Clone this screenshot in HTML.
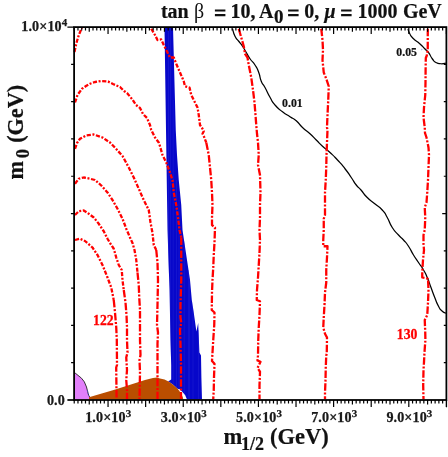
<!DOCTYPE html>
<html><head><meta charset="utf-8"><title>plot</title>
<style>
html,body{margin:0;padding:0;background:#fff;}
body{width:448px;height:457px;overflow:hidden;}
svg{display:block;will-change:transform;opacity:0.999;font-family:"Liberation Serif",serif;font-weight:bold;}
.tl{font-size:14.1px;letter-spacing:0.12px;fill:#1a1a1a;stroke:#1a1a1a;stroke-width:0.25px;}
</style></head><body>
<svg width="448" height="457" viewBox="0 0 448 457">
<rect width="448" height="457" fill="#fff"/>
<!-- filled regions -->
<polygon points="164.5,27 173,27 175.75,130 177,155 178.75,180 181.25,205 182.5,230 186.25,255 190,280 191.8,300 193.8,313 196.4,331.5 198.2,323 198.6,333 199.4,352.5 201,355.5 201.4,378 202,399.5 187,399.5 185.1,395.1 182.3,391.8 179.5,389 177.9,389 173.4,385 169,381.7 167.8,381.7 171.2,379.5 171.2,365 170.5,340 169.5,290 167.5,230 166,130" fill="#0707ca"/>
<clipPath id="bc"><polygon points="164.5,27 173,27 175.75,130 177,155 178.75,180 181.25,205 182.5,230 186.25,255 190,280 191.8,300 193.8,313 196.4,331.5 198.2,323 198.6,333 199.4,352.5 201,355.5 201.4,378 202,399.5 187,399.5 185.1,395.1 182.3,391.8 179.5,389 177.9,389 173.4,385 169,381.7 167.8,381.7 171.2,379.5 171.2,365 170.5,340 169.5,290 167.5,230 166,130"/></clipPath>
<g clip-path="url(#bc)" stroke="#2222d2" stroke-width="0.5" fill="none"><path d="M168.5 27V400M170.6 27V400M173.2 100V400M176.5 180V400M179 200V400M184.2 240V400M188.6 270V400M189.6 280V400M193 300V400M198.5 330V400"/></g>
<polygon points="74,373 75.1,373 81.5,378.2 84.3,381.8 86.5,387 87.5,391 88.7,395.6 90,397.3 90,399.5 74,399.5" fill="#e280fa"/>
<polyline points="75.1,373 81.5,378.2 84.3,381.8 86.5,387 87.5,391 88.7,395.6 90,397.3" fill="none" stroke="#222" stroke-width="0.9"/>
<path d="M87.4 390.5L88.6 395.2L89.8 397" stroke="#5a5af0" stroke-width="0.9" fill="none" stroke-dasharray="1.2 1.2"/>
<polygon points="89,399.5 89,397.3 100,394 112,390.5 120,388 145,380 153,378 157,377.5 160,378.4 164.5,379.5 169,381.7 173.4,385 177.9,389 181.2,393.5 182.9,397.4 183.3,399.5" fill="#ba4e00"/>
<!-- black contours -->
<g fill="none" stroke="#000" stroke-width="1.25" stroke-linejoin="round">
<path d="M232.5 28.75C233.33 31.25 232.92 32.08 235 36.25C237.08 40.42 236.25 37.92 238.75 41.25C241.25 44.58 240.00 42.50 242.5 46.25C245.00 50.00 243.75 48.33 246.25 52.5C248.75 56.67 247.08 54.58 250 58.75C252.92 62.92 252.08 60.42 255 65C257.92 69.58 256.67 67.08 258.75 72.5C260.83 77.92 259.17 76.25 261.25 81.25C263.33 86.25 262.08 82.15 265 87.5C267.92 92.85 266.67 91.47 270 97.3C273.33 103.13 270.83 100.20 275 105C279.17 109.80 277.50 107.80 282.5 111.7C287.50 115.60 285.42 113.67 290 116.7C294.58 119.73 292.08 117.20 296.25 120.8C300.42 124.40 297.92 123.18 302.5 127.5C307.08 131.82 305.42 129.58 310 133.75C314.58 137.92 312.08 135.83 316.25 140C320.42 144.17 317.92 142.08 322.5 146.25C327.08 150.42 325.00 147.92 330 152.5C335.00 157.08 332.50 154.58 337.5 160C342.50 165.42 340.42 162.92 345 168.75C349.58 174.58 347.50 172.08 351.25 177.5C355.00 182.92 353.00 180.83 356.25 185C359.50 189.17 357.33 185.83 361 190C364.67 194.17 362.67 192.92 367.25 197.5C371.83 202.08 369.75 199.58 374.75 203.75C379.75 207.92 378.08 205.42 382.25 210C386.42 214.58 383.92 211.67 387.25 217.5C390.58 223.33 388.50 221.67 392.25 227.5C396.00 233.33 394.75 230.83 398.5 235C402.25 239.17 400.17 236.25 403.5 240C406.83 243.75 405.17 241.25 408.5 246.25C411.83 251.25 410.17 249.58 413.5 255C416.83 260.42 415.17 257.50 418.5 262.5C421.83 267.50 420.58 265.00 423.5 270C426.42 275.00 424.75 271.67 427.25 277.5C429.75 283.33 428.50 280.83 431 287.5C433.50 294.17 432.25 291.25 434.75 297.5C437.25 303.75 436.00 301.67 438.5 306.25C441.00 310.83 439.75 308.92 442.25 311.25C444.75 313.58 444.75 312.58 446 313.25"/>
<path d="M408 28.75C408.58 30.42 407.92 30.42 409.75 33.75C411.58 37.08 410.17 35.42 413.5 38.75C416.83 42.08 416.00 40.42 419.75 43.75C423.50 47.08 421.83 45.83 424.75 48.75C427.67 51.67 426.00 49.17 428.5 52.5C431.00 55.83 429.75 55.42 432.25 58.75C434.75 62.08 433.08 60.83 436 62.5C438.92 64.17 437.67 63.58 441 63.75C444.33 63.92 444.33 63.25 446 63"/>
</g>
<!-- red contours -->
<g fill="none" stroke="#ff0000" stroke-width="2.3" stroke-linejoin="round">
<g stroke-dasharray="4.2 1.6 2 1.6"><polyline points="74.5,52 75.5,47 77,41 78.75,35.3 80.5,31 82,28"/>
<polyline points="75,102.5 77.5,95 82,88.75 86,86 90,83.75 95,82 101,81 108,81.5 113,84 120,87 124,91 127,93 132,99 136,105 140,108 143,114 147,118 150,125 151.25,130 155,137.5 158.75,142.5 160,146.25 162.5,155 166.25,162.5 170,172.5 172.5,180 173.75,192.5 176.25,205 178,217.5 179.5,230 181.25,237.5"/>
<polyline points="75,148.75 77,143 80,138.75 86,135.5 93.75,134.5 102.5,137.5 110,142.5 116,148.75 122.5,156 128.75,167.5 133.75,177.5 138.75,188.75 143.75,200 148.75,210 150.5,222.5 152.5,233 153.75,245 156.25,250"/>
<polyline points="75,183.75 78.75,178.75 83.75,177.5 90,178.75 95,180 101.25,185.5 107.5,192.5 112.5,200 117.5,208.75 122.5,218.75 126.25,228.75 130,237.5 132.5,243 134.5,250 136.25,260 137.5,272.5"/>
<polyline points="75,215 78.75,211.25 83.75,210.5 88.75,213.75 93.75,217.5 98.75,223.75 103.75,231.25 107.5,238.75 110,243 113.75,248.75 116.25,257.5 118.75,265 121.75,270 122.5,280 123.75,290"/>
<polyline points="75,240 80,238.75 85,241 92.5,247.5 97.5,255 102.5,265 107.5,277.5 111.25,287.5 113.75,300"/>
<polyline points="151.25,28.75 155,35 157.5,40 161.25,39.5 163.75,45 167.5,52.5 170,57.5 173.75,57.5 176.25,63.75 180,72.5 183.75,81.25 185,86.25 189.5,87.5 191.25,95 195,102.5 197.5,107.5 198.75,115 200,125 202.5,128.75 203.75,131.25 202.5,133.75 203.75,136 206.25,142.5"/></g>
<g stroke-dasharray="7.5 1.7 2 1.7"><polyline points="181.25,237.5 181.25,255 181.25,280 180.5,305 180.5,317.5 181.25,322.5 180,330 180.5,344 181,365 181,399"/>
<polyline points="156.25,250 157.5,262.5 158,280 157.5,305 157,325 158,332.5 157.5,343.75 157.5,399"/>
<polyline points="137.5,272.5 138.75,285 139.25,297.5 140,310 140,322.5 140,340 140.5,355 139.5,360 140,372.5 139.5,399"/>
<polyline points="123.75,290 125.5,302.5 126.5,315 127,327.5 127,340 127.5,352.5 126.25,357.5 127,370 126.25,380 127,390 127,399"/>
<polyline points="113.75,300 115,312.5 116.25,327.5 116.8,340 117,365 116.2,367.5 116.6,399"/>
<polyline points="206.25,142.5 208.75,155 210,167.5 211.25,180 212,192.5 212.5,205 212,217.5 212,225 215,227.5 214.5,242.5 213.75,255 213.25,267.5 212.5,280 212,292.5 211.75,310 214.5,312.5 214.25,325 213.25,340 212.5,352.5 212,361 214.5,363.75 214,377.5 213.75,390 213.25,399"/>
<polyline points="238.75,28.75 241.25,37.5 243.75,46.25 245,53.75 247.5,57.5 248.75,65 251.25,77.5 253,90 254.5,102.5 255.5,115 256.25,125 257,133.75 258,142.5 258.75,155 258,165 260,175 260.5,192.5 260,205 260,217.5 259.5,230 260,240 259.5,252.5 258.75,265 258,277.5 257,290 256.75,300 260,301.25 259.5,315 258.75,327.5 258.25,340 258,355.5 257.5,360.5 260.5,361.75 257.5,368 260,371.75 259.5,385.5 259.5,399"/>
<polyline points="321.25,28.75 322.5,40 323,50 322.5,60 323.75,72.5 326.25,78.75 328.75,86.25 328.25,100 327.5,115 327,127.5 327.5,130 327,142.5 326.5,155 326.25,167.5 325.75,180 325,192.5 325,205 325,215 323.75,218.75 323.75,230 323.25,240 323.25,246.25 327.5,246.25 327,257.5 326.25,270 326.25,282.5 325,292.5 324.5,305 323.75,317.5 323.25,327.5 325,333.75 327,337.5 326.75,353.75 326.25,355.5 325.75,368 325.5,380.5 325,393 325,399"/>
<polyline points="427.8,28.75 427.75,40 427.75,50.5 427,53.5 426.8,55.5 425.8,58 425.6,70 425.5,82.5 425.25,95 424,107.5 423.5,117.5 424.75,127.5 425,133 426.5,137.5 428.5,147.5 429,155 428.5,167.5 428,180 427.25,192.5 426.5,202.5 424.75,207.5 425.25,217.5 424.75,230 423.5,235 423.5,243.75 424,250 423,260 422.25,272.5 422.25,277.5 428,278.75 428.5,290 428,302.5 427.25,315 424.75,320 425.25,332.5 425.4,340 424.5,352 424,362 423.5,370 423.2,385 423.5,399"/></g>
</g>
<!-- axes -->
<rect x="74.1" y="27.1" width="372.3" height="372.9" fill="none" stroke="#000" stroke-width="1.8"/>
<path d="M74.22 27.1v3.5M74.22 400.0v3.5M77.97 27.1v3.5M77.97 400.0v3.5M81.73 27.1v3.5M81.73 400.0v3.5M85.49 27.1v3.5M85.49 400.0v3.5M89.25 27.1v4.6M89.25 400.0v4.6M93.01 27.1v3.5M93.01 400.0v3.5M96.77 27.1v3.5M96.77 400.0v3.5M100.53 27.1v3.5M100.53 400.0v3.5M104.29 27.1v3.5M104.29 400.0v3.5M108.05 27.1v7.0M108.05 400.0v7.0M111.81 27.1v3.5M111.81 400.0v3.5M115.57 27.1v3.5M115.57 400.0v3.5M119.33 27.1v3.5M119.33 400.0v3.5M123.09 27.1v3.5M123.09 400.0v3.5M126.85 27.1v4.6M126.85 400.0v4.6M130.61 27.1v3.5M130.61 400.0v3.5M134.37 27.1v3.5M134.37 400.0v3.5M138.13 27.1v3.5M138.13 400.0v3.5M141.88 27.1v3.5M141.88 400.0v3.5M145.64 27.1v7.0M145.64 400.0v7.0M149.40 27.1v3.5M149.40 400.0v3.5M153.16 27.1v3.5M153.16 400.0v3.5M156.92 27.1v3.5M156.92 400.0v3.5M160.68 27.1v3.5M160.68 400.0v3.5M164.44 27.1v4.6M164.44 400.0v4.6M168.20 27.1v3.5M168.20 400.0v3.5M171.96 27.1v3.5M171.96 400.0v3.5M175.72 27.1v3.5M175.72 400.0v3.5M179.48 27.1v3.5M179.48 400.0v3.5M183.24 27.1v7.0M183.24 400.0v7.0M187.00 27.1v3.5M187.00 400.0v3.5M190.76 27.1v3.5M190.76 400.0v3.5M194.52 27.1v3.5M194.52 400.0v3.5M198.28 27.1v3.5M198.28 400.0v3.5M202.04 27.1v4.6M202.04 400.0v4.6M205.80 27.1v3.5M205.80 400.0v3.5M209.55 27.1v3.5M209.55 400.0v3.5M213.31 27.1v3.5M213.31 400.0v3.5M217.07 27.1v3.5M217.07 400.0v3.5M220.83 27.1v7.0M220.83 400.0v7.0M224.59 27.1v3.5M224.59 400.0v3.5M228.35 27.1v3.5M228.35 400.0v3.5M232.11 27.1v3.5M232.11 400.0v3.5M235.87 27.1v3.5M235.87 400.0v3.5M239.63 27.1v4.6M239.63 400.0v4.6M243.39 27.1v3.5M243.39 400.0v3.5M247.15 27.1v3.5M247.15 400.0v3.5M250.91 27.1v3.5M250.91 400.0v3.5M254.67 27.1v3.5M254.67 400.0v3.5M258.43 27.1v7.0M258.43 400.0v7.0M262.19 27.1v3.5M262.19 400.0v3.5M265.95 27.1v3.5M265.95 400.0v3.5M269.71 27.1v3.5M269.71 400.0v3.5M273.47 27.1v3.5M273.47 400.0v3.5M277.22 27.1v4.6M277.22 400.0v4.6M280.98 27.1v3.5M280.98 400.0v3.5M284.74 27.1v3.5M284.74 400.0v3.5M288.50 27.1v3.5M288.50 400.0v3.5M292.26 27.1v3.5M292.26 400.0v3.5M296.02 27.1v7.0M296.02 400.0v7.0M299.78 27.1v3.5M299.78 400.0v3.5M303.54 27.1v3.5M303.54 400.0v3.5M307.30 27.1v3.5M307.30 400.0v3.5M311.06 27.1v3.5M311.06 400.0v3.5M314.82 27.1v4.6M314.82 400.0v4.6M318.58 27.1v3.5M318.58 400.0v3.5M322.34 27.1v3.5M322.34 400.0v3.5M326.10 27.1v3.5M326.10 400.0v3.5M329.86 27.1v3.5M329.86 400.0v3.5M333.62 27.1v7.0M333.62 400.0v7.0M337.38 27.1v3.5M337.38 400.0v3.5M341.14 27.1v3.5M341.14 400.0v3.5M344.89 27.1v3.5M344.89 400.0v3.5M348.65 27.1v3.5M348.65 400.0v3.5M352.41 27.1v4.6M352.41 400.0v4.6M356.17 27.1v3.5M356.17 400.0v3.5M359.93 27.1v3.5M359.93 400.0v3.5M363.69 27.1v3.5M363.69 400.0v3.5M367.45 27.1v3.5M367.45 400.0v3.5M371.21 27.1v7.0M371.21 400.0v7.0M374.97 27.1v3.5M374.97 400.0v3.5M378.73 27.1v3.5M378.73 400.0v3.5M382.49 27.1v3.5M382.49 400.0v3.5M386.25 27.1v3.5M386.25 400.0v3.5M390.01 27.1v4.6M390.01 400.0v4.6M393.77 27.1v3.5M393.77 400.0v3.5M397.53 27.1v3.5M397.53 400.0v3.5M401.29 27.1v3.5M401.29 400.0v3.5M405.05 27.1v3.5M405.05 400.0v3.5M408.81 27.1v7.0M408.81 400.0v7.0M412.56 27.1v3.5M412.56 400.0v3.5M416.32 27.1v3.5M416.32 400.0v3.5M420.08 27.1v3.5M420.08 400.0v3.5M423.84 27.1v3.5M423.84 400.0v3.5M427.60 27.1v4.6M427.60 400.0v4.6M431.36 27.1v3.5M431.36 400.0v3.5M435.12 27.1v3.5M435.12 400.0v3.5M438.88 27.1v3.5M438.88 400.0v3.5M442.64 27.1v3.5M442.64 400.0v3.5M446.40 27.1v7.0M446.40 400.0v7.0M74.1 362.71h-3.0M446.4 362.71h-2.6M74.1 325.42h-3.0M446.4 325.42h-2.6M74.1 288.13h-3.0M446.4 288.13h-2.6M74.1 250.84h-3.0M446.4 250.84h-2.6M74.1 213.55h-3.2M446.4 213.55h-4.2M74.1 176.26h-3.0M446.4 176.26h-2.6M74.1 138.97h-3.0M446.4 138.97h-2.6M74.1 101.68h-3.0M446.4 101.68h-2.6M74.1 64.39h-3.0M446.4 64.39h-2.6" stroke="#000" stroke-width="1.2" fill="none"/>
<path d="M74.1 27.10h-6.7M446.5 400.0v7.2" stroke="#000" stroke-width="1.2" fill="none"/>
<path d="M74.1 400.00h-6.7" stroke="#000" stroke-width="1.7" fill="none"/>
<!-- labels -->
<g font-size="20" fill="#111" stroke="#111" stroke-width="0.2">
<text x="160.9" y="17.9">tan</text>
<text x="194" y="17.9" font-weight="normal" stroke="none">β</text>
<path d="M214.9 9.45h10.5v2.15h-10.5zM214.9 14.05h10.5v2.15h-10.5z" stroke="none"/>
<text x="230.6" y="17.9">10,</text>
<text x="258.9" y="17.9">A</text>
<text x="274" y="23.3" font-size="19">0</text>
<path d="M288.1 9.45h10.5v2.15h-10.5zM288.1 14.05h10.5v2.15h-10.5z" stroke="none"/>
<text x="304.2" y="17.9">0,</text>
<text x="324.6" y="17.9" font-style="italic">μ</text>
<path d="M341.1 9.45h10.5v2.15h-10.5zM341.1 14.05h10.5v2.15h-10.5z" stroke="none"/>
<text x="357.4" y="17.9">1000</text>
<text x="402.9" y="17.9">GeV</text>
</g>
<text x="21.3" y="31.2" class="tl">1.0×10<tspan dy="-5.2" font-size="11">4</tspan></text>
<text x="46.9" y="404.7" class="tl">0.0</text>
<text x="85.2" y="422.3" class="tl">1.0×10<tspan dy="-5.2" font-size="11">3</tspan></text>
<text x="160.8" y="422.3" class="tl">3.0×10<tspan dy="-5.2" font-size="11">3</tspan></text>
<text x="236.0" y="422.3" class="tl">5.0×10<tspan dy="-5.2" font-size="11">3</tspan></text>
<text x="311.2" y="422.3" class="tl">7.0×10<tspan dy="-5.2" font-size="11">3</tspan></text>
<text x="386.4" y="422.3" class="tl">9.0×10<tspan dy="-5.2" font-size="11">3</tspan></text>
<g font-size="22.5" fill="#111" stroke="#111" stroke-width="0.2">
<text x="223.5" y="444">m</text>
<text x="241" y="449.7" font-size="18">1/2</text>
<text x="270" y="444">(GeV)</text>
<g transform="translate(23.4,0) rotate(-90)" font-size="22.2">
<text x="-179.6" y="0">m</text>
<text x="-158.2" y="5.2" font-size="18.5">0</text>
<text x="-142.8" y="0">(GeV)</text>
</g>
</g>
<text x="282.1" y="107" font-size="11.8" fill="#111" stroke="#111" stroke-width="0.2">0.01</text>
<text x="396.3" y="56.3" font-size="11.8" fill="#111" stroke="#111" stroke-width="0.2">0.05</text>
<polygon points="420.9,48.4 422.9,49.6 421.3,50.4" fill="#9cc4ff"/>
<text x="93.1" y="324.8" font-size="15.4" textLength="20.6" lengthAdjust="spacingAndGlyphs" fill="#ff0000" stroke="#ff0000" stroke-width="0.3">122</text>
<text x="396.8" y="338.9" font-size="15.4" textLength="20.6" lengthAdjust="spacingAndGlyphs" fill="#ff0000" stroke="#ff0000" stroke-width="0.3">130</text>
</svg>
</body></html>
